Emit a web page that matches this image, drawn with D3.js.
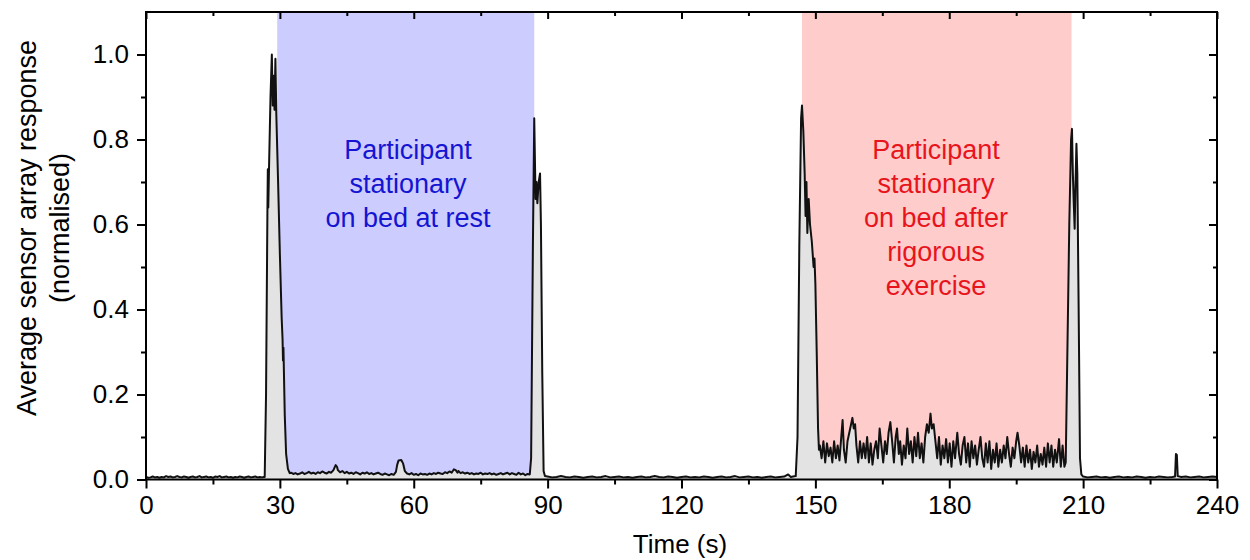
<!DOCTYPE html>
<html>
<head>
<meta charset="utf-8">
<script src="https://cdn.jsdelivr.net/npm/d3@7"></script>
<style>
  html, body { margin: 0; padding: 0; background: #fff; }
  svg { display: block; font-family: "Liberation Sans", Arial, sans-serif; }
</style>
</head>
<body>
<svg id="chart" width="1250" height="560"></svg>
<script>
// ---------------- DATA ----------------
const xTickValues = [0, 30, 60, 90, 120, 150, 180, 210, 240];
const xMinorTicks = [15, 45, 75, 105, 135, 165, 195, 225];
const yTickValues = [0.0, 0.2, 0.4, 0.6, 0.8, 1.0];
const yMinorTicks = [0.1, 0.3, 0.5, 0.7, 0.9];

const xLabel = "Time (s)";
const yLabelLines = ["Average sensor array response", "(normalised)"];

const regionStarts = [29.4, 147.0];
const regionEnds = [87.0, 207.4];
const regionLabels = [
  ["Participant", "stationary", "on bed at rest"],
  ["Participant", "stationary", "on bed after", "rigorous", "exercise"]
];

// [time (s), normalised response]
const baselineStart = [
  [0,0.006],[0.5,0.004],[1,0.005],[1.5,0.007],[2,0.005],[2.5,0.006],[3,0.004],[3.5,0.006],[4,0.005],[4.5,0.008],
  [5,0.006],[5.5,0.007],[6,0.005],[6.5,0.006],[7,0.008],[7.5,0.006],[8,0.005],[8.5,0.007],[9,0.006],[9.5,0.004],
  [10,0.006],[10.5,0.007],[11,0.005],[11.5,0.006],[12,0.008],[12.5,0.005],[13,0.006],[13.5,0.007],[14,0.005],[14.5,0.006],
  [15,0.004],[15.5,0.007],[16,0.006],[16.5,0.008],[17,0.005],[17.5,0.006],[18,0.007],[18.5,0.005],[19,0.006],[19.5,0.004],
  [20,0.006],[20.5,0.005],[21,0.007],[21.5,0.006],[22,0.004],[22.5,0.006],[23,0.007],[23.5,0.005],[24,0.006],[24.5,0.007],
  [25,0.005],[25.5,0.006],[26,0.005],[26.4,0.006]
];
const peakOne = [
  [26.6,0.006],[26.9,0.20],[27.2,0.62],[27.3,0.73],[27.4,0.64],[27.6,0.75],[27.9,0.90],[28.2,1.00],[28.4,0.88],
  [28.6,0.95],[28.8,0.87],[29.0,0.99],[29.2,0.86],[29.6,0.70],[30.0,0.53],[30.4,0.38],[30.6,0.33],[30.7,0.28],
  [30.8,0.31],[31.1,0.15],[31.4,0.06],[31.8,0.025],[32.2,0.015]
];
const restPhase = [
  [32.5,0.016],[33,0.013],[33.5,0.015],[34,0.012],[34.5,0.014],[35,0.017],[35.5,0.013],[36,0.015],[36.5,0.018],[37,0.014],
  [37.5,0.016],[38,0.013],[38.5,0.017],[39,0.015],[39.5,0.019],[40,0.016],[40.5,0.014],[41,0.018],[41.5,0.016],[42,0.022],
  [42.5,0.034],[42.8,0.030],[43,0.022],[43.5,0.017],[44,0.020],[44.5,0.015],[45,0.018],[45.5,0.014],[46,0.016],[46.5,0.013],
  [47,0.017],[47.5,0.015],[48,0.012],[48.5,0.016],[49,0.014],[49.5,0.017],[50,0.013],[50.5,0.015],[51,0.012],[51.5,0.014],
  [52,0.016],[52.5,0.013],[53,0.011],[53.5,0.014],[54,0.012],[54.5,0.010],[55,0.013],[55.5,0.011],[56,0.018],[56.3,0.035],
  [56.6,0.045],[57.2,0.046],[57.6,0.038],[58,0.020],[58.5,0.014],[59,0.012],[59.5,0.015],[60,0.011],[60.5,0.013],[61,0.010],
  [61.5,0.014],[62,0.012],[62.5,0.013],[63,0.011],[63.5,0.014],[64,0.012],[64.5,0.015],[65,0.013],[65.5,0.016],[66,0.014],
  [66.5,0.013],[67,0.017],[67.5,0.015],[68,0.019],[68.5,0.016],[69,0.024],[69.4,0.022],[69.8,0.016],[70,0.020],[70.5,0.015],
  [71,0.017],[71.5,0.014],[72,0.016],[72.5,0.013],[73,0.015],[73.5,0.012],[74,0.014],[74.5,0.013],[75,0.016],[75.5,0.012],
  [76,0.014],[76.5,0.013],[77,0.015],[77.5,0.012],[78,0.014],[78.5,0.011],[79,0.013],[79.5,0.015],[80,0.012],[80.5,0.014],
  [81,0.016],[81.5,0.012],[82,0.015],[82.5,0.013],[83,0.011],[83.5,0.016],[84,0.012],[84.5,0.014],[85,0.010],[85.5,0.013],
  [86,0.012]
];
const peakTwo = [
  [86.3,0.05],[86.7,0.55],[87.0,0.85],[87.3,0.66],[87.5,0.70],[87.7,0.65],[88.0,0.70],[88.3,0.72],[88.5,0.60],
  [88.8,0.25],[89.1,0.02],[89.4,0.008]
];
const baselineMiddle = [
  [90,0.007],[91,0.005],[92,0.006],[93,0.008],[94,0.006],[95,0.005],[96,0.007],[97,0.006],[98,0.004],[99,0.006],
  [100,0.007],[101,0.005],[102,0.006],[103,0.008],[104,0.005],[105,0.006],[106,0.007],[107,0.005],[108,0.006],[109,0.004],
  [110,0.006],[111,0.007],[112,0.005],[113,0.006],[114,0.008],[115,0.006],[116,0.005],[117,0.007],[118,0.006],[119,0.004],
  [120,0.006],[121,0.007],[122,0.005],[123,0.006],[124,0.005],[125,0.007],[126,0.006],[127,0.004],[128,0.006],[129,0.007],
  [130,0.005],[131,0.006],[132,0.008],[133,0.005],[134,0.006],[135,0.007],[136,0.005],[137,0.006],[138,0.004],[139,0.006],
  [140,0.007],[141,0.005],[142,0.006],[143,0.007],[143.9,0.012],[144.5,0.006],[145,0.007],[145.6,0.008]
];
const peakThree = [
  [146.0,0.10],[146.4,0.55],[146.8,0.85],[147.0,0.88],[147.3,0.82],[147.6,0.72],[147.8,0.62],[148.0,0.70],[148.2,0.58],
  [148.5,0.66],[148.8,0.60],[149.2,0.56],[149.6,0.50],[149.8,0.52],[150.0,0.46],[150.3,0.30],[150.6,0.12],[150.8,0.07]
];
const exercisePhase = [
  [151.0,0.08],[151.4,0.05],[151.8,0.09],[152.2,0.04],[152.6,0.085],[153.0,0.055],[153.4,0.075],[153.8,0.04],[154.2,0.09],[154.6,0.05],
  [155.0,0.08],[155.4,0.045],[155.8,0.10],[156.1,0.14],[156.4,0.07],[156.8,0.04],[157.2,0.09],[157.6,0.11],[158.0,0.13],[158.3,0.145],
  [158.6,0.12],[158.9,0.13],[159.2,0.08],[159.6,0.04],[160.0,0.09],[160.4,0.05],[160.8,0.085],[161.2,0.05],[161.6,0.10],[162.0,0.04],
  [162.4,0.085],[162.8,0.035],[163.2,0.07],[163.6,0.09],[164.0,0.05],[164.4,0.12],[164.8,0.08],[165.2,0.04],[165.6,0.09],[166.0,0.06],
  [166.4,0.11],[166.8,0.135],[167.2,0.09],[167.6,0.04],[168.0,0.10],[168.3,0.12],[168.7,0.06],[169.0,0.09],[169.4,0.035],[169.8,0.08],
  [170.2,0.05],[170.6,0.12],[171.0,0.06],[171.4,0.09],[171.8,0.04],[172.2,0.10],[172.6,0.055],[173.0,0.11],[173.4,0.05],[173.8,0.085],
  [174.2,0.04],[174.6,0.10],[175.0,0.13],[175.4,0.11],[175.8,0.155],[176.1,0.12],[176.5,0.13],[176.9,0.09],[177.3,0.05],[177.7,0.10],
  [178.1,0.035],[178.5,0.08],[178.9,0.05],[179.3,0.095],[179.7,0.04],[180.1,0.085],[180.5,0.03],[180.9,0.09],[181.3,0.05],[181.8,0.11],
  [182.2,0.06],[182.6,0.035],[183.0,0.08],[183.4,0.10],[183.8,0.04],[184.2,0.085],[184.6,0.03],[185.0,0.09],[185.4,0.05],[185.8,0.08],
  [186.2,0.035],[186.6,0.07],[187.0,0.10],[187.4,0.05],[187.8,0.03],[188.2,0.085],[188.6,0.04],[189.0,0.09],[189.4,0.025],[189.8,0.07],
  [190.2,0.04],[190.6,0.085],[191.0,0.03],[191.4,0.07],[191.8,0.04],[192.2,0.08],[192.6,0.05],[193.0,0.10],[193.4,0.06],[193.8,0.03],
  [194.2,0.075],[194.6,0.05],[195.0,0.09],[195.3,0.11],[195.7,0.08],[196.1,0.04],[196.5,0.075],[196.9,0.03],[197.3,0.08],[197.7,0.04],
  [198.1,0.07],[198.5,0.025],[198.9,0.065],[199.3,0.04],[199.7,0.08],[200.1,0.03],[200.5,0.06],[200.9,0.035],[201.3,0.075],[201.7,0.03],
  [202.1,0.085],[202.5,0.04],[202.9,0.08],[203.3,0.03],[203.7,0.07],[204.1,0.04],[204.6,0.095],[205.0,0.03],[205.4,0.08],[205.8,0.03]
];
const peakFour = [
  [206.1,0.04],[206.4,0.25],[206.9,0.60],[207.3,0.80],[207.5,0.825],[207.7,0.72],[207.9,0.65],[208.1,0.59],[208.3,0.70],
  [208.5,0.79],[208.7,0.72],[209.0,0.40],[209.3,0.05],[209.6,0.012]
];
const baselineEnd = [
  [210,0.007],[211,0.005],[212,0.006],[213,0.007],[214,0.005],[215,0.006],[216,0.004],[217,0.006],[218,0.007],[219,0.005],
  [220,0.006],[221,0.005],[222,0.007],[223,0.006],[224,0.004],[225,0.006],[226,0.005],[227,0.007],[228,0.006],[229,0.005],
  [230,0.006],[230.6,0.007],[230.8,0.060],[231.0,0.058],[231.2,0.008],[232,0.006],[233,0.007],[234,0.005],[235,0.006],
  [236,0.007],[237,0.005],[238,0.006],[239,0.007],[240,0.006]
];

// ---------------- STYLE / LAYOUT ----------------
const plot = { left: 146, right: 1217, top: 12, bottom: 479.5 };
const regionFills = ["#ccccff", "#ffcccc"];
const regionTextColors = ["#1414d2", "#e8141c"];
const regionTextX = [408, 936];
const tickFont = 26;
const titleFont = 27;
const regionFont = 27;

const series = [].concat(baselineStart, peakOne, restPhase, peakTwo, baselineMiddle,
                         peakThree, exercisePhase, peakFour, baselineEnd);

const svg = d3.select("#chart");
const x = d3.scaleLinear().domain([0, 240]).range([plot.left, plot.right]);
const y = d3.scaleLinear().domain([0, 1.1]).range([plot.bottom, plot.top]);

// shaded regions
svg.append("g").selectAll("rect")
  .data(regionStarts.map((s, i) => ({ s, e: regionEnds[i], i })))
  .join("rect")
  .attr("x", d => x(d.s))
  .attr("width", d => x(d.e) - x(d.s))
  .attr("y", y(1.1))
  .attr("height", y(0) - y(1.1))
  .attr("fill", d => regionFills[d.i]);

// area under curve
svg.append("path")
  .datum(series)
  .attr("fill", "#e3e3e3")
  .attr("d", d3.area().x(d => x(d[0])).y0(y(0)).y1(d => y(d[1])));

// line
svg.append("path")
  .datum(series)
  .attr("fill", "none")
  .attr("stroke", "#111")
  .attr("stroke-width", 2)
  .attr("stroke-linejoin", "round")
  .attr("d", d3.line().x(d => x(d[0])).y(d => y(d[1])));

// region labels
regionLabels.forEach((lines, i) => {
  const t = svg.append("text")
    .attr("text-anchor", "middle")
    .attr("font-size", regionFont)
    .attr("fill", regionTextColors[i]);
  lines.forEach((ln, j) => {
    t.append("tspan").attr("x", regionTextX[i]).attr("y", 159 + j * 34).text(ln);
  });
});

// axes
function styleAxis(g) {
  g.select(".domain").remove();
  g.selectAll(".tick line").attr("stroke", "#000").attr("stroke-width", 2);
  g.selectAll(".tick text").attr("font-size", tickFont).attr("fill", "#000")
    .attr("font-family", "Liberation Sans, Arial, sans-serif");
}
// bottom
svg.append("g").attr("transform", `translate(0,${plot.bottom})`)
  .call(d3.axisBottom(x).tickValues(xTickValues).tickSize(9).tickPadding(7).tickFormat(d3.format("d")))
  .call(styleAxis);
svg.append("g").attr("transform", `translate(0,${plot.bottom})`)
  .call(d3.axisBottom(x).tickValues(xMinorTicks).tickSize(5).tickFormat(""))
  .call(styleAxis);
// left
svg.append("g").attr("transform", `translate(${plot.left},0)`)
  .call(d3.axisLeft(y).tickValues(yTickValues).tickSize(9).tickPadding(8).tickFormat(d3.format(".1f")))
  .call(styleAxis);
svg.append("g").attr("transform", `translate(${plot.left},0)`)
  .call(d3.axisLeft(y).tickValues(yMinorTicks).tickSize(5).tickFormat(""))
  .call(styleAxis);
// top (inward)
svg.append("g").attr("transform", `translate(0,${plot.top})`)
  .call(d3.axisBottom(x).tickValues(xTickValues).tickSize(7).tickFormat(""))
  .call(styleAxis);
svg.append("g").attr("transform", `translate(0,${plot.top})`)
  .call(d3.axisBottom(x).tickValues(xMinorTicks).tickSize(4).tickFormat(""))
  .call(styleAxis);
// right (inward)
svg.append("g").attr("transform", `translate(${plot.right},0)`)
  .call(d3.axisLeft(y).tickValues(yTickValues).tickSize(8).tickFormat(""))
  .call(styleAxis);
svg.append("g").attr("transform", `translate(${plot.right},0)`)
  .call(d3.axisLeft(y).tickValues(yMinorTicks).tickSize(4).tickFormat(""))
  .call(styleAxis);

// frame
svg.append("rect")
  .attr("x", plot.left).attr("y", plot.top)
  .attr("width", plot.right - plot.left).attr("height", plot.bottom - plot.top)
  .attr("fill", "none").attr("stroke", "#000").attr("stroke-width", 2);

// axis titles
svg.append("text")
  .attr("x", 680).attr("y", 553)
  .attr("text-anchor", "middle").attr("font-size", 26).attr("fill", "#000")
  .text(xLabel);

const yt = svg.append("text")
  .attr("transform", "translate(0,228) rotate(-90)")
  .attr("text-anchor", "middle").attr("font-size", titleFont).attr("fill", "#000");
yLabelLines.forEach((ln, j) => {
  yt.append("tspan").attr("x", 0).attr("y", 36 + j * 33).text(ln);
});
</script>
</body>
</html>
